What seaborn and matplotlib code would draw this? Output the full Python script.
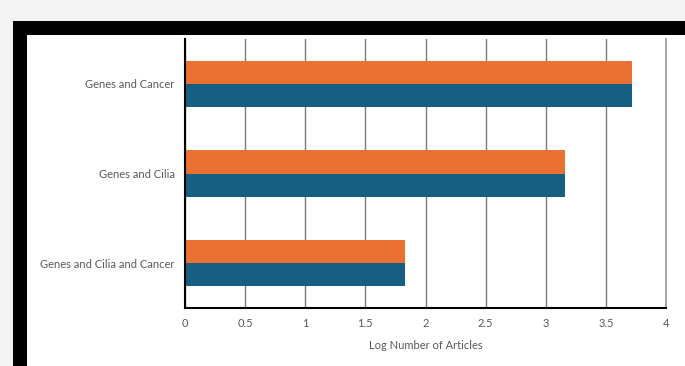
import pandas as pd
import matplotlib.pyplot as plt
import seaborn as sns
from matplotlib.patches import Rectangle

# Chart data
categories = ['Genes and Cancer', 'Genes and Cilia', 'Genes and Cilia and Cancer']
series_a = [3.72, 3.16, 1.83]   # orange, top bar of each pair
series_b = [3.72, 3.16, 1.83]   # blue, bottom bar of each pair
series_names = ['Series 1', 'Series 2']
x_ticks = [0, 0.5, 1, 1.5, 2, 2.5, 3, 3.5, 4]
x_tick_labels = ['0', '0.5', '1', '1.5', '2', '2.5', '3', '3.5', '4']

df = pd.DataFrame({
    'category': categories * 2,
    'value': series_a + series_b,
    'series': [series_names[0]] * 3 + [series_names[1]] * 3,
})

sns.set_style('white')
plt.rcParams['font.family'] = ['Lato', 'DejaVu Sans']

fig = plt.figure(figsize=(6.85, 3.66), dpi=100, facecolor='#f3f3f3')

# Black frame and white panel behind the chart
W, H = 685, 366
fig.patches.append(Rectangle((13 / W, 0), 1, (H - 21) / H, transform=fig.transFigure,
                             facecolor='black', edgecolor='none', zorder=-2))
fig.patches.append(Rectangle((27 / W, 0), 1, (H - 35) / H, transform=fig.transFigure,
                             facecolor='white', edgecolor='none', zorder=-1))

ax = fig.add_axes([185 / W, (H - 308) / H, (666 - 185) / W, (308 - 39) / H])
ax.set_facecolor('none')

sns.barplot(data=df, y='category', x='value', hue='series', orient='h',
            palette=['#E97132', '#156082'], width=0.52, saturation=1,
            edgecolor='none', linewidth=0, legend=False, ax=ax)

ax.set_xlim(0, 4)
ax.set_xticks(x_ticks)
ax.set_xticklabels(x_tick_labels)
ax.grid(axis='x', color='#7a7a7a', linewidth=1)
ax.set_axisbelow(True)

ax.spines['top'].set_visible(False)
ax.spines['right'].set_color('#a0a0a0')
ax.spines['right'].set_linewidth(1.3)
for side in ['left', 'bottom']:
    ax.spines[side].set_color('black')
    ax.spines[side].set_linewidth(1.5)
    ax.spines[side].set_zorder(5)

ax.tick_params(axis='y', length=0, pad=7.5, labelsize=8, labelcolor='#595959')
ax.tick_params(axis='x', length=0, pad=7, labelsize=8, labelcolor='#595959')
ax.set_ylabel('')
ax.set_xlabel('Log Number of Articles', fontsize=8, color='#595959', labelpad=8)

fig.savefig('out.png', dpi=100, facecolor=fig.get_facecolor())
